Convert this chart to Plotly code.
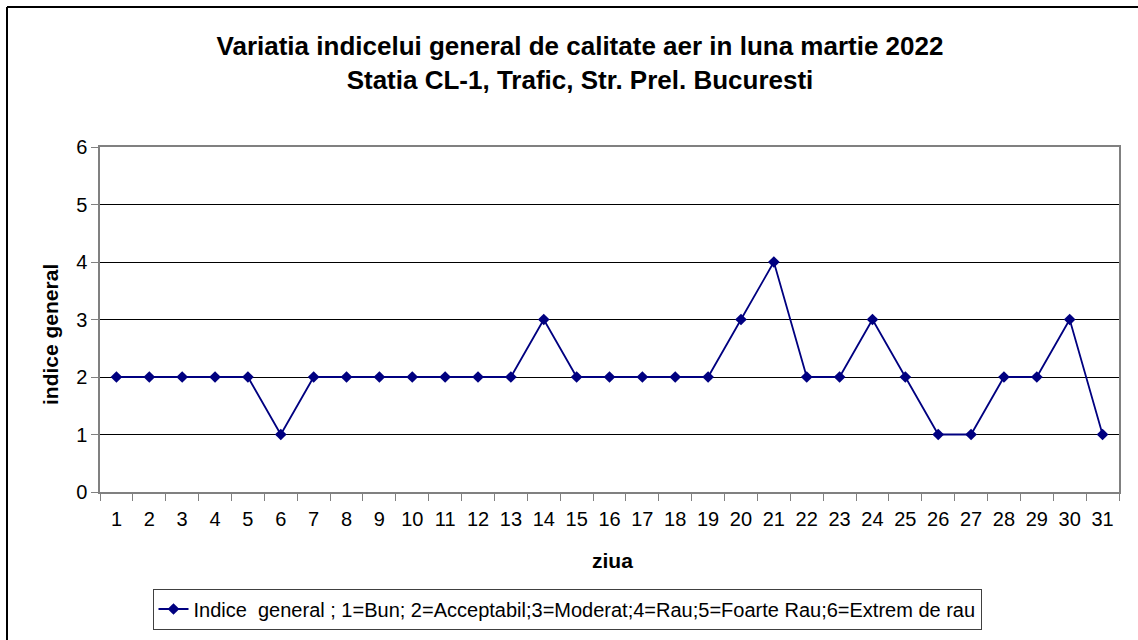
import plotly.graph_objects as go

days = [str(d) for d in range(1, 32)]
values = [2, 2, 2, 2, 2, 1, 2, 2, 2, 2, 2, 2, 2, 3, 2, 2, 2, 2, 2, 3, 4, 2, 2, 3, 2, 1, 1, 2, 2, 3, 1]
series_name = "Indice\u00a0 general ; 1=Bun; 2=Acceptabil;3=Moderat;4=Rau;5=Foarte Rau;6=Extrem de rau"
title_lines = ["Variatia indicelui general de calitate aer in luna martie 2022",
               "Statia CL-1, Trafic, Str. Prel. Bucuresti"]
x_title = "ziua"
y_title = "indice general"

FONT = "Liberation Sans, Arial, sans-serif"
W, H = 1138, 640
L, R, T, B = 100, 1119, 147, 492

def px_x(x):
    return (x - L) / (R - L)

def px_y(y):
    return (B - y) / (B - T)

fig = go.Figure()
fig.add_trace(go.Scatter(
    x=days, y=values, mode="lines+markers", name=series_name,
    line=dict(color="#000080", width=1.8),
    marker=dict(symbol="diamond", size=9, color="#000080"),
    showlegend=True,
))

fig.update_layout(
    width=W, height=H,
    margin=dict(l=L, r=W - R, t=T, b=H - B, autoexpand=False),
    paper_bgcolor="white", plot_bgcolor="white",
    font=dict(family=FONT, color="black", size=20),
    title=dict(text="<b>" + title_lines[0] + "<br>" + title_lines[1] + "</b>",
               x=px_x(580), xref="paper", xanchor="center",
               y=1 - 55 / H, yanchor="middle",
               font=dict(family=FONT, size=26, color="black")),
    showlegend=True,
    legend=dict(orientation="h", x=px_x(567), xanchor="center", xref="paper",
                y=px_y(609), yanchor="middle", yref="paper",
                bordercolor="#404040", borderwidth=1, bgcolor="white",
                font=dict(family=FONT, size=20, color="black")),
    xaxis=dict(type="category", range=[-0.5, 30.5], tickson="boundaries",
               ticks="outside", ticklen=7, ticklabelstandoff=8,
               tickcolor="#808080", showline=True, linecolor="#808080", linewidth=1.5,
               mirror=True, showgrid=False, tickfont=dict(size=20)),
    yaxis=dict(range=[0, 6], dtick=1, ticks="outside", ticklen=7, tickcolor="#808080",
               showline=True, linecolor="#808080", linewidth=1.5, mirror=True,
               showgrid=True, gridcolor="black", gridwidth=1, zeroline=False,
               tickfont=dict(size=20)),
    annotations=[
        dict(text="<b>" + x_title + "</b>", xref="paper", yref="paper",
             x=px_x(612), y=px_y(560), xanchor="center", yanchor="middle",
             showarrow=False, font=dict(family=FONT, size=21, color="black")),
        dict(text="<b>" + y_title + "</b>", xref="paper", yref="paper",
             x=px_x(50), y=px_y(335), xanchor="center", yanchor="middle",
             textangle=-90, showarrow=False, font=dict(family=FONT, size=21, color="black")),
    ],
    shapes=[
        dict(type="line", xref="paper", yref="paper", x0=px_x(7), x1=px_x(1140),
             y0=px_y(7), y1=px_y(7), line=dict(color="black", width=2)),
        dict(type="line", xref="paper", yref="paper", x0=px_x(7), x1=px_x(7),
             y0=px_y(7), y1=px_y(645), line=dict(color="black", width=2)),
    ],
)

fig.write_html("out.html", config={"displayModeBar": False},
               post_script="document.body.style.margin='0px';")
